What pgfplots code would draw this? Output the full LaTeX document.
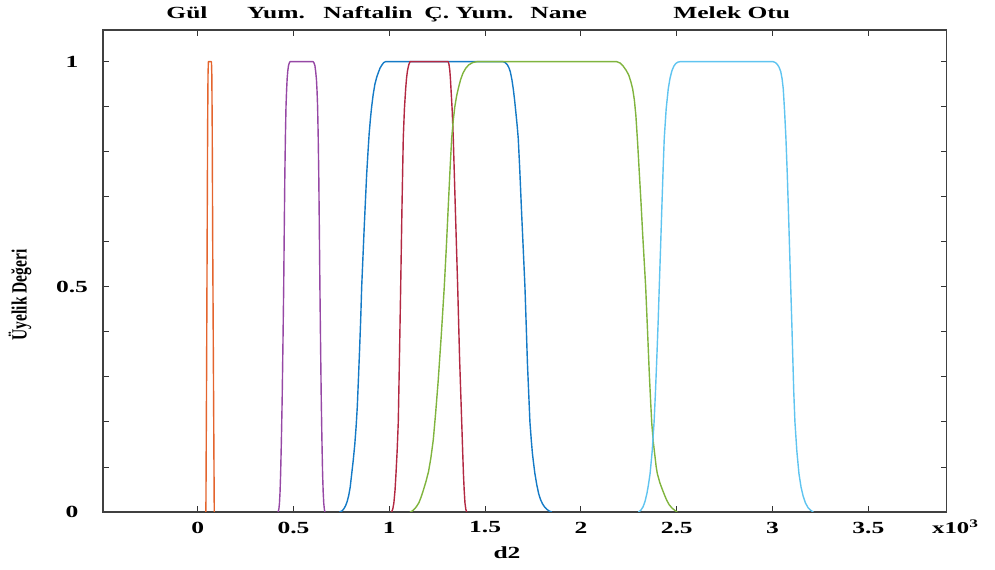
\documentclass[border=0pt]{standalone}
\usepackage{fontspec}
\setmainfont{Liberation Serif}[FakeStretch=1.5]
\newfontfamily\ylabfont{Liberation Serif}
\usepackage{graphicx}
\usepackage{pgfplots}
\pgfplotsset{compat=1.18}
\definecolor{cNaf}{RGB}{20,122,198}
\definecolor{cGul}{RGB}{228,100,45}
\definecolor{cYum}{RGB}{150,72,165}
\definecolor{cNane}{RGB}{128,180,62}
\definecolor{cMelek}{RGB}{95,196,240}
\definecolor{cCYum}{RGB}{178,40,66}
\begin{document}
\begin{tikzpicture}
\useasboundingbox (-103bp,-58bp) rectangle (892bp,512bp);
\begin{axis}[
  at={(0,0)}, anchor=south west,
  scale only axis, width=843.7bp, height=482bp,
  xmin=-0.494, xmax=3.909, ymin=0, ymax=1.0704,
  xtick={0,0.5,1,1.5,2,2.5,3,3.5},
  xticklabels={0,0.5,1,1.5,2,2.5,3,3.5},
  ytick={0,0.1,0.2,0.3,0.4,0.5,0.6,0.7,0.8,0.9,1},
  yticklabels={0,,,,,0.5,,,,,1},
  ticklabel style={font=\bfseries\fontsize{17bp}{20bp}\selectfont},
  xticklabel style={anchor=center, yshift=-15.5bp},
  yticklabel style={anchor=center, xshift=-31bp},
  major tick length=6bp,
  tick style={line width=0.9bp, color=black!80},
  axis line style={line width=1.1bp, color=black!75},
  every axis plot/.append style={line width=1.4bp, line join=round, no markers},
]
% Gul
\addplot[cGul] coordinates {(0.043,0)(0.0465,0.3)(0.0495,0.6)(0.052,0.85)(0.054,0.97)(0.056,1)(0.072,1)(0.074,0.97)(0.076,0.85)(0.0785,0.6)(0.0825,0.3)(0.0866,0)};
% Yum.
\addplot[cYum] coordinates {(0.420,0)(0.424,0.007)(0.427,0.02)(0.430,0.045)(0.433,0.085)(0.437,0.16)(0.441,0.25)(0.445,0.37)(0.449,0.5)(0.452,0.63)(0.455,0.75)(0.458,0.835)(0.461,0.9)(0.464,0.935)(0.467,0.962)(0.4705,0.98)(0.474,0.991)(0.478,0.997)(0.482,1)
(0.603,1)(0.6075,0.997)(0.612,0.991)(0.616,0.978)(0.620,0.96)(0.623,0.935)(0.626,0.9)(0.629,0.835)(0.632,0.75)(0.635,0.63)(0.638,0.5)(0.6415,0.37)(0.645,0.25)(0.6485,0.16)(0.652,0.085)(0.655,0.045)(0.658,0.02)(0.661,0.007)(0.664,0)};
% Naftalin
\addplot[cNaf] coordinates {(0.740,0)(0.752,0.002)(0.763,0.007)(0.772,0.014)(0.780,0.023)(0.788,0.036)(0.796,0.055)(0.804,0.085)(0.812,0.115)(0.820,0.15)(0.827,0.19)(0.833,0.233)(0.839,0.295)(0.845,0.36)(0.851,0.43)(0.856,0.5)(0.863,0.57)(0.869,0.63)(0.876,0.695)(0.882,0.75)(0.889,0.80)(0.895,0.84)(0.902,0.875)(0.908,0.9)(0.916,0.927)(0.925,0.95)(0.934,0.965)(0.943,0.976)(0.952,0.986)(0.962,0.993)(0.971,0.998)(0.980,1)
(1.595,1)(1.605,0.998)(1.615,0.994)(1.624,0.987)(1.632,0.977)(1.640,0.96)(1.647,0.94)(1.654,0.915)(1.660,0.89)(1.667,0.86)(1.673,0.83)(1.681,0.76)(1.690,0.67)(1.699,0.585)(1.708,0.5)(1.715,0.41)(1.721,0.33)(1.728,0.26)(1.734,0.2)(1.741,0.16)(1.747,0.13)(1.754,0.105)(1.760,0.085)(1.770,0.06)(1.780,0.04)(1.790,0.027)(1.800,0.018)(1.811,0.011)(1.822,0.006)(1.835,0.002)(1.848,0)};
% C. Yum.
\addplot[cCYum] coordinates {(1.012,0)(1.018,0.006)(1.024,0.02)(1.030,0.048)(1.035,0.085)(1.041,0.135)(1.047,0.2)(1.053,0.34)(1.0595,0.5)(1.066,0.67)(1.073,0.83)(1.079,0.895)(1.0856,0.94)(1.090,0.963)(1.095,0.98)(1.1015,0.993)(1.108,1)
(1.308,1)(1.312,0.993)(1.316,0.98)(1.319,0.963)(1.322,0.94)(1.328,0.895)(1.334,0.83)(1.345,0.67)(1.357,0.5)(1.367,0.34)(1.378,0.2)(1.383,0.135)(1.387,0.085)(1.391,0.048)(1.395,0.02)(1.3995,0.006)(1.404,0)};
% Nane
\addplot[cNane] coordinates {(1.108,0)(1.119,0.002)(1.13,0.006)(1.142,0.012)(1.155,0.021)(1.166,0.033)(1.1775,0.048)(1.191,0.067)(1.205,0.09)(1.217,0.12)(1.2296,0.16)(1.242,0.22)(1.255,0.29)(1.271,0.39)(1.287,0.5)(1.298,0.59)(1.308,0.68)(1.317,0.76)(1.3257,0.83)(1.334,0.87)(1.342,0.9)(1.351,0.923)(1.360,0.94)(1.372,0.96)(1.385,0.975)(1.400,0.986)(1.415,0.993)(1.435,0.998)(1.456,1)
(2.187,1)(2.205,0.997)(2.221,0.99)(2.236,0.981)(2.250,0.97)(2.261,0.955)(2.270,0.94)(2.279,0.915)(2.287,0.88)(2.296,0.82)(2.305,0.752)(2.314,0.685)(2.322,0.62)(2.330,0.56)(2.338,0.5)(2.348,0.40)(2.357,0.307)(2.364,0.245)(2.370,0.196)(2.378,0.155)(2.387,0.122)(2.393,0.1)(2.399,0.085)(2.412,0.065)(2.425,0.05)(2.437,0.037)(2.448,0.026)(2.461,0.016)(2.475,0.009)(2.489,0.004)(2.503,0)};
% Melek Otu
\addplot[cMelek] coordinates {(2.300,0)(2.313,0.004)(2.325,0.012)(2.335,0.024)(2.345,0.042)(2.353,0.062)(2.361,0.085)(2.372,0.135)(2.382,0.2)(2.389,0.265)(2.396,0.34)(2.403,0.42)(2.409,0.5)(2.416,0.59)(2.422,0.67)(2.429,0.76)(2.435,0.83)(2.445,0.895)(2.456,0.94)(2.465,0.963)(2.475,0.98)(2.485,0.99)(2.495,0.996)(2.506,0.999)(2.517,1)
(3.004,1)(3.015,0.998)(3.025,0.994)(3.034,0.988)(3.043,0.978)(3.050,0.962)(3.056,0.94)(3.063,0.89)(3.070,0.83)(3.077,0.75)(3.083,0.67)(3.089,0.585)(3.095,0.5)(3.101,0.415)(3.106,0.34)(3.111,0.265)(3.117,0.2)(3.127,0.135)(3.138,0.085)(3.149,0.055)(3.160,0.035)(3.172,0.02)(3.185,0.01)(3.199,0.004)(3.213,0)};
\end{axis}
\begin{scope}[every node/.style={font=\bfseries\fontsize{17bp}{20bp}\selectfont, inner sep=0pt}]
\node[anchor=base] at (84bp,493bp) {Gül};
\node[anchor=base] at (173bp,493bp) {Yum.};
\node[anchor=base] at (265bp,493bp) {Naftalin};
\node[anchor=base] at (366bp,493bp) {Ç. Yum.};
\node[anchor=base] at (455.7bp,493bp) {Nane};
\node[anchor=base] at (628.7bp,493bp) {Melek Otu};
\node[anchor=base west, font=\bfseries\fontsize{16.5bp}{19bp}\selectfont] at (829bp,-21.3bp) {x10\textsuperscript{3}};
\node[anchor=base] at (404bp,-46bp) {d2};
\node[rotate=90, anchor=center] at (-83bp,217bp) {\scalebox{1}[1.4]{\ylabfont\bfseries\fontsize{15.5bp}{18bp}\selectfont Üyelik Değeri}};
\end{scope}
\end{tikzpicture}
\end{document}
